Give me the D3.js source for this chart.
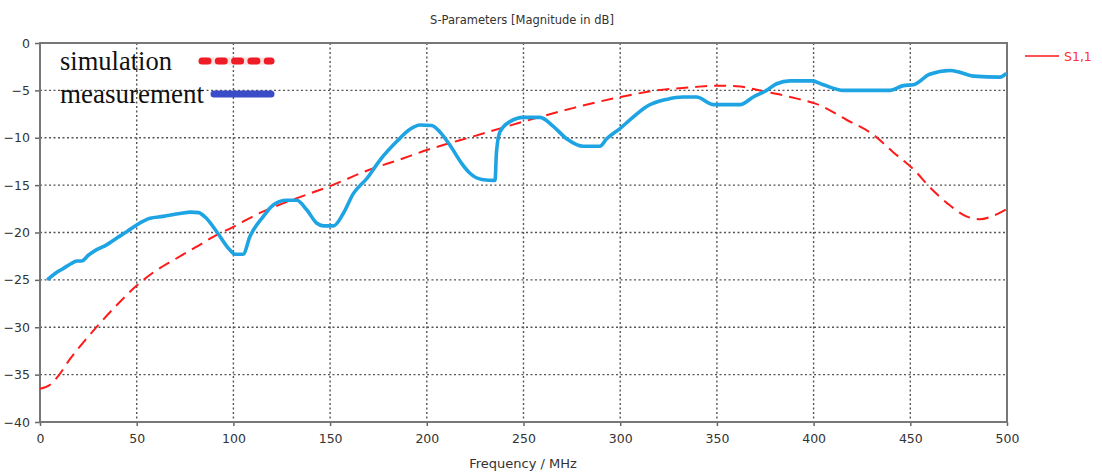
<!DOCTYPE html>
<html><head><meta charset="utf-8">
<script src="https://cdn.jsdelivr.net/npm/d3@7"></script>
<style>body{margin:0;background:#fff}</style>
</head><body>
<svg id="c" width="1102" height="473"></svg>
<script>
const xTicks = [0,50,100,150,200,250,300,350,400,450,500];
const yTicks = [0,-5,-10,-15,-20,-25,-30,-35,-40];
const simFreq = [0,5,10,15,22,30,40,50,58,70,81,90,100,112,126,138,150,170,186,200,225,250,275,300,319,335,350,362,374,386,392,401,417,431,441,452,460,469,479,486,492,500];
const simDb   = [-36.5,-36.1,-35.0,-33.5,-31.7,-29.8,-27.6,-25.6,-24.3,-22.8,-21.5,-20.4,-19.4,-18.1,-16.9,-16.0,-15.1,-13.4,-12.3,-11.3,-9.8,-8.3,-6.9,-5.7,-5.0,-4.7,-4.5,-4.6,-5.1,-5.6,-5.9,-6.4,-8.1,-9.7,-11.5,-13.4,-15.2,-16.9,-18.3,-18.6,-18.3,-17.5];
const measFreq = [4.3,8,12,16,19,21.5,25,29.3,32.7,39.6,45,50,56.9,63.7,72.4,78,82,86,92,98,100.8,105,108.6,115.5,120.6,127.5,132.7,137.9,143,146.5,151.7,156.8,162,169,175.8,184.4,191.3,196.5,202.5,206.8,212,218,222.3,228.4,235.3,236,237.8,243,250,258.5,265.4,272.3,281,289.5,293,300,306.8,313.7,324,332.6,339.5,348,362,368.8,375.7,380.9,387.8,399,405,415.4,439.5,446.4,451.6,460,470.5,475.7,482.6,496.4,499];
const measDb   = [-24.9,-24.3,-23.8,-23.3,-23.0,-23.0,-22.4,-21.8,-21.5,-20.6,-19.9,-19.2,-18.5,-18.3,-18.0,-17.85,-17.9,-18.5,-20.1,-21.8,-22.3,-22.3,-20.4,-18.3,-17.1,-16.6,-16.6,-17.6,-19.0,-19.3,-19.3,-18.0,-15.9,-14.3,-12.35,-10.4,-9.1,-8.65,-8.7,-9.4,-10.8,-12.7,-13.75,-14.4,-14.5,-11.6,-9.4,-8.3,-7.85,-7.85,-8.8,-10.1,-10.9,-10.9,-10.1,-9.0,-7.8,-6.7,-5.95,-5.7,-5.7,-6.5,-6.5,-5.7,-5.0,-4.3,-4.0,-4.0,-4.4,-5.0,-5.0,-4.5,-4.4,-3.3,-2.9,-3.1,-3.5,-3.6,-3.3];

const svg = d3.select('#c');
const L=40,R=1007,T=43,B=422;
const x = d3.scaleLinear().domain([0,500]).range([L,R]);
const y = d3.scaleLinear().domain([-40,0]).range([B,T]);
const font = "'DejaVu Sans', Verdana, sans-serif";

// grid
const g = svg.append('g');
g.selectAll('.vg').data(xTicks.filter(d=>d>0&&d<500)).enter().append('line')
 .attr('x1',d=>x(d)).attr('x2',d=>x(d)).attr('y1',T).attr('y2',B)
 .attr('stroke','#555').attr('stroke-width',1.4).attr('stroke-dasharray','2,2.5');
g.selectAll('.hg').data(yTicks.filter(d=>d<0&&d>-40)).enter().append('line')
 .attr('x1',L).attr('x2',R).attr('y1',d=>y(d)).attr('y2',d=>y(d))
 .attr('stroke','#555').attr('stroke-width',1.4).attr('stroke-dasharray','2,2.5');

// axes
const xa = svg.append('g').attr('transform',`translate(0,${B})`)
 .call(d3.axisBottom(x).tickValues(xTicks).tickSize(4).tickPadding(8));
const ya = svg.append('g').attr('transform',`translate(${L},0)`)
 .call(d3.axisLeft(y).tickValues(yTicks).tickSize(5).tickPadding(4).tickFormat(d3.format('d')));
[xa,ya].forEach(a=>{
  a.select('.domain').remove();
  a.selectAll('line').attr('stroke','#666').attr('stroke-width',1.5);
  a.selectAll('text').attr('font-family',font).attr('font-size',12.5).attr('fill','#333');
});
ya.selectAll('text').attr('dx',-1);
// frame
svg.append('rect').attr('x',L).attr('y',T).attr('width',R-L).attr('height',B-T)
 .attr('fill','none').attr('stroke','#777').attr('stroke-width',2);

// lines
const line = d3.line().x(d=>x(d[0])).y(d=>y(d[1])).curve(d3.curveMonotoneX);
svg.append('path').datum(simFreq.map((f,i)=>[f,simDb[i]]))
 .attr('d',line).attr('fill','none').attr('stroke','#ff1a1a').attr('stroke-width',2)
 .attr('stroke-dasharray','12,7');
svg.append('path').datum(measFreq.map((f,i)=>[f,measDb[i]]))
 .attr('d',line).attr('fill','none').attr('stroke','#1ea3e3').attr('stroke-width',3.6)
 .attr('stroke-linejoin','round').attr('stroke-linecap','round');

// title & labels
svg.append('text').attr('x',522).attr('y',24).attr('text-anchor','middle')
 .attr('font-family',font).attr('font-size',11.5).attr('fill','#333').text('S-Parameters [Magnitude in dB]');
svg.append('text').attr('x',523).attr('y',468).attr('text-anchor','middle')
 .attr('font-family',font).attr('font-size',13).attr('fill','#333').text('Frequency / MHz');

// right legend
svg.append('line').attr('x1',1025).attr('x2',1059).attr('y1',56).attr('y2',56)
 .attr('stroke','#ff1a1a').attr('stroke-width',1.5);
svg.append('text').attr('x',1064).attr('y',61).attr('font-family',font).attr('font-size',12.5)
 .attr('fill','#ff3030').text('S1,1');

// inner legend
const serif = "'Liberation Serif','Times New Roman',serif";
svg.append('text').attr('x',60).attr('y',70).attr('font-family',serif).attr('font-size',26.5)
 .attr('fill','#111').text('simulation');
svg.append('text').attr('x',60).attr('y',103).attr('font-family',serif).attr('font-size',27)
 .attr('fill','#111').text('measurement');
svg.append('line').attr('x1',202).attr('x2',271).attr('y1',61).attr('y2',61)
 .attr('stroke','#fbe0e0').attr('stroke-width',7).attr('stroke-linecap','round');
svg.append('line').attr('x1',202).attr('x2',271).attr('y1',61).attr('y2',61)
 .attr('stroke','#ee1c24').attr('stroke-width',7).attr('stroke-linecap','round')
 .attr('stroke-dasharray','6,10.3');
svg.append('line').attr('x1',214).attr('x2',271).attr('y1',94).attr('y2',94)
 .attr('stroke','#3b4cc8').attr('stroke-width',7).attr('stroke-linecap','round');
</script>
</body></html>
